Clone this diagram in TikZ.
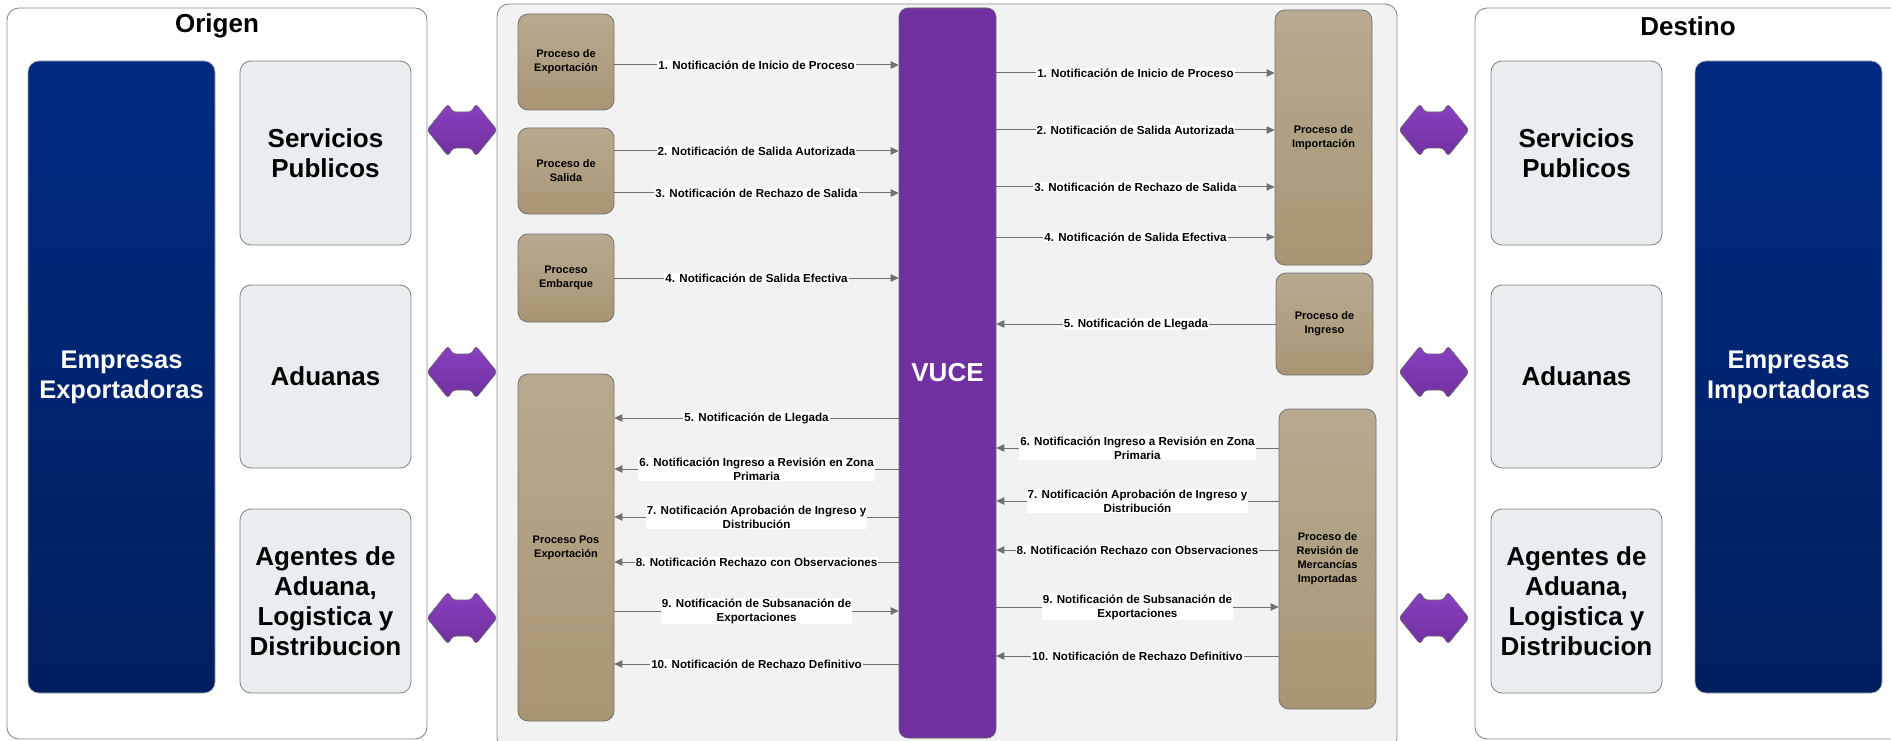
\documentclass[tikz,border=0pt]{standalone}
\usepackage{fontspec}
\setmainfont{Liberation Sans}
\usetikzlibrary{arrows.meta}
\definecolor{panelgray}{HTML}{8A8A8A}
\definecolor{centerfill}{HTML}{F2F2F2}
\definecolor{bluetop}{HTML}{002A82}
\definecolor{bluebot}{HTML}{001F5E}
\definecolor{lightbox}{HTML}{E8EDF0}
\definecolor{browntop}{HTML}{B8AA90}
\definecolor{brownbot}{HTML}{A89574}
\definecolor{vucepurple}{HTML}{7030A0}
\definecolor{dbltop}{HTML}{8A40C0}
\definecolor{dblbot}{HTML}{7030A0}
\definecolor{arrowgray}{HTML}{707070}
\tikzset{
  panel/.style={draw=panelgray, line width=0.9pt, rounded corners=12pt},
  bigtitle/.style={font=\bfseries\fontsize{26}{30}\selectfont},
  empbox/.style={draw=gray!70, line width=0.6pt, rounded corners=11pt, top color=bluetop, bottom color=bluebot,
    text=white, font=\bfseries\fontsize{25.5}{30}\selectfont, align=center, inner sep=0pt},
  graybox/.style={draw=gray, line width=0.8pt, rounded corners=11pt, fill=lightbox,
    font=\bfseries\fontsize{26}{30}\selectfont, align=center, inner sep=0pt, minimum width=171pt},
  brownbox/.style={draw=gray!90!black, line width=0.8pt, rounded corners=10pt, top color=browntop, bottom color=brownbot,
    font=\bfseries\fontsize{11}{14}\selectfont, align=center, inner sep=0pt, minimum width=96pt},
  vucebox/.style={draw=gray!80!black, line width=0.6pt, rounded corners=9pt, fill=vucepurple,
    text=white, font=\bfseries\fontsize{26}{30}\selectfont, inner sep=0pt},
  arr/.style={draw=arrowgray, line width=1pt, -{Triangle[length=8pt,width=7.5pt]}},
  lbl/.style={fill=white, inner sep=1pt, font=\fontsize{11.6}{14}\selectfont\bfseries, align=center, midway},
  dbl/.pic={\path[draw=gray!80!black, line width=0.6pt, top color=dbltop, bottom color=dblbot, rounded corners=3pt]
     (-35,0) -- (-14,-26) -- (-9,-18) -- (9,-18) -- (14,-26) -- (35,0) -- (14,26) -- (9,18) -- (-9,18) -- (-14,26) -- cycle;}
}
\begin{document}
\begin{tikzpicture}[x=1pt,y=-1pt]
\useasboundingbox (0,0) rectangle (1891,741);
% panels
\draw[panel, fill=white] (7,8) rectangle (427,739);
\draw[panel, fill=centerfill] (497,4) rectangle (1397,750);
\draw[panel, fill=white] (1475,8) rectangle (1910,739);
\node[bigtitle] (torig) at (217,26) {Origen};
\node[bigtitle] (tdest) at (1688,26) {Destino};
% left side
\node[empbox, minimum width=187pt, minimum height=632pt] (empE) at (121.5,377) {Empresas\\Exportadoras};
\node[graybox, minimum height=184pt] (servL) at (325.5,153) {Servicios\\Publicos};
\node[graybox, minimum height=183pt] (aduL) at (325.5,376.5) {Aduanas};
\node[graybox, minimum height=184pt] (ageL) at (325.5,601) {Agentes de\\Aduana,\\Logistica y\\Distribucion};
% right side
\node[graybox, minimum height=184pt] (servR) at (1576.5,153) {Servicios\\Publicos};
\node[graybox, minimum height=183pt] (aduR) at (1576.5,376.5) {Aduanas};
\node[graybox, minimum height=184pt] (ageR) at (1576.5,601) {Agentes de\\Aduana,\\Logistica y\\Distribucion};
\node[empbox, minimum width=187pt, minimum height=632pt] (empI) at (1788.5,377) {Empresas\\Importadoras};
% double arrows
\foreach \yy/\nm in {130/a,372/b,618/c}{
  \pic (dl\nm) at (462,\yy) {dbl};
  \pic (dr\nm) at (1434,\yy) {dbl};
}
% center
\node[vucebox, minimum width=97pt, minimum height=730pt] (vuce) at (947.5,373) {VUCE};
\node[brownbox, minimum height=96pt] (pexp) at (566,62) {Proceso de\\Exportación};
\node[brownbox, minimum height=86pt] (psal) at (566,171) {Proceso de\\Salida};
\node[brownbox, minimum height=88pt] (pemb) at (566,278) {Proceso\\Embarque};
\node[brownbox, minimum height=347pt] (ppos) at (566,547.5) {Proceso Pos\\Exportación};
\node[brownbox, minimum height=255pt, minimum width=97pt] (pimp) at (1323.5,137.5) {Proceso de\\Importación};
\node[brownbox, minimum height=102pt, minimum width=97pt] (ping) at (1324.5,324) {Proceso de\\Ingreso};
\node[brownbox, minimum height=300pt, minimum width=97pt] (prev) at (1327.5,559) {Proceso de\\Revisión de\\Mercancías\\Importadas};
% left connectors
\draw[arr] (pexp.east |- 0,65) -- node[lbl] {1. Notificación de Inicio de Proceso} (vuce.west |- 0,65);
\draw[arr] (psal.east |- 0,151) -- node[lbl] {2. Notificación de Salida Autorizada} (vuce.west |- 0,151);
\draw[arr] (psal.east |- 0,193) -- node[lbl] {3. Notificación de Rechazo de Salida} (vuce.west |- 0,193);
\draw[arr] (pemb.east |- 0,278) -- node[lbl] {4. Notificación de Salida Efectiva} (vuce.west |- 0,278);
\draw[arr] (vuce.west |- 0,418) -- node[lbl] {5. Notificación de Llegada} (ppos.east |- 0,418);
\draw[arr] (vuce.west |- 0,469) -- node[lbl] {6. Notificación Ingreso a Revisión en Zona\\Primaria} (ppos.east |- 0,469);
\draw[arr] (vuce.west |- 0,517) -- node[lbl] {7. Notificación Aprobación de Ingreso y\\Distribución} (ppos.east |- 0,517);
\draw[arr] (vuce.west |- 0,562) -- node[lbl] {8. Notificación Rechazo con Observaciones} (ppos.east |- 0,562);
\draw[arr] (ppos.east |- 0,611) -- node[lbl] {9. Notificación de Subsanación de\\Exportaciones} (vuce.west |- 0,611);
\draw[arr] (vuce.west |- 0,664) -- node[lbl] {10. Notificación de Rechazo Definitivo} (ppos.east |- 0,664);
% right connectors
\draw[arr] (vuce.east |- 0,73) -- node[lbl] {1. Notificación de Inicio de Proceso} (pimp.west |- 0,73);
\draw[arr] (vuce.east |- 0,130) -- node[lbl] {2. Notificación de Salida Autorizada} (pimp.west |- 0,130);
\draw[arr] (vuce.east |- 0,187) -- node[lbl] {3. Notificación de Rechazo de Salida} (pimp.west |- 0,187);
\draw[arr] (vuce.east |- 0,237) -- node[lbl] {4. Notificación de Salida Efectiva} (pimp.west |- 0,237);
\draw[arr] (ping.west |- 0,324) -- node[lbl] {5. Notificación de Llegada} (vuce.east |- 0,324);
\draw[arr] (prev.west |- 0,448) -- node[lbl] {6. Notificación Ingreso a Revisión en Zona\\Primaria} (vuce.east |- 0,448);
\draw[arr] (prev.west |- 0,501) -- node[lbl] {7. Notificación Aprobación de Ingreso y\\Distribución} (vuce.east |- 0,501);
\draw[arr] (prev.west |- 0,550) -- node[lbl] {8. Notificación Rechazo con Observaciones} (vuce.east |- 0,550);
\draw[arr] (vuce.east |- 0,607) -- node[lbl] {9. Notificación de Subsanación de\\Exportaciones} (prev.west |- 0,607);
\draw[arr] (prev.west |- 0,656) -- node[lbl] {10. Notificación de Rechazo Definitivo} (vuce.east |- 0,656);
\end{tikzpicture}
\end{document}
